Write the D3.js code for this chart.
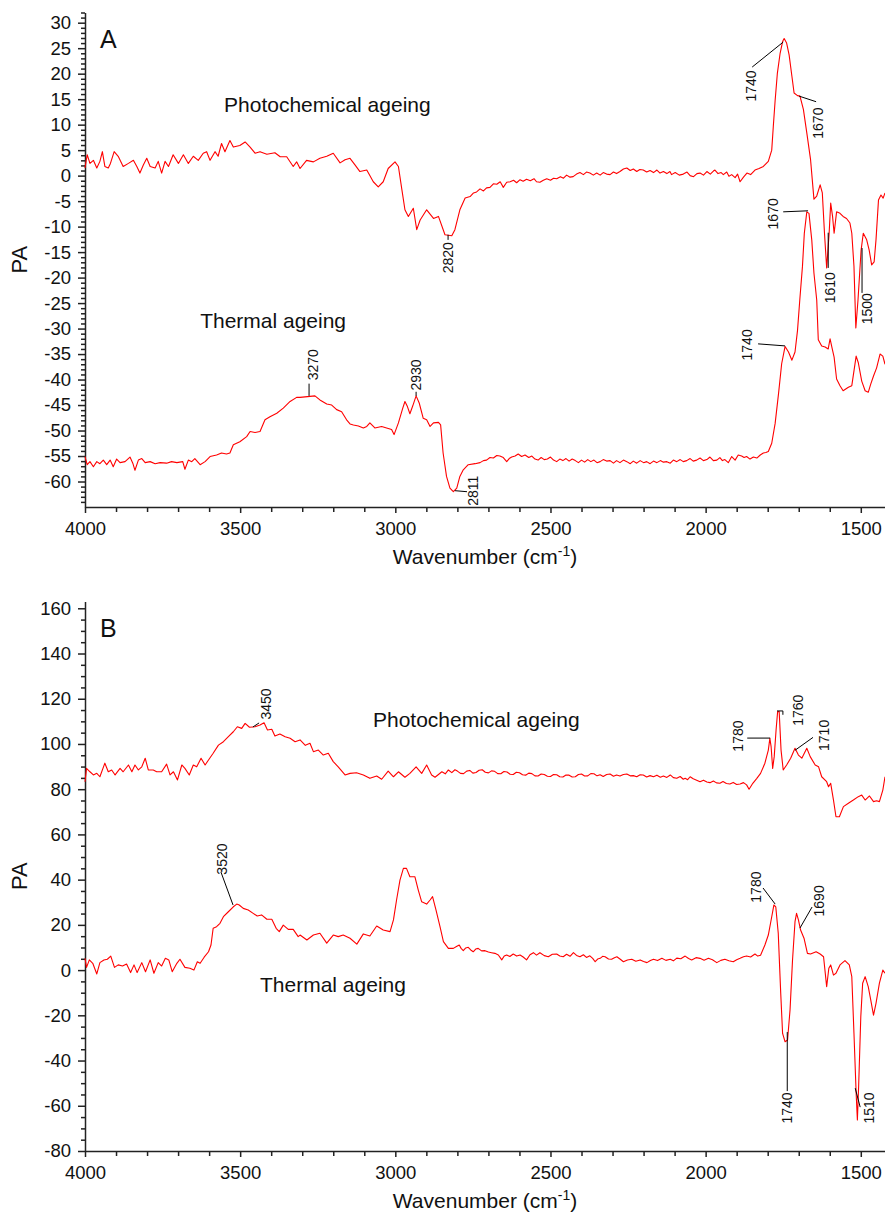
<!DOCTYPE html>
<html>
<head>
<meta charset="utf-8">
<script src="https://cdn.jsdelivr.net/npm/d3@7"></script>
<style>
  body { margin: 0; background: #fff; }
  text { font-family: "Liberation Sans", Arial, sans-serif; }
</style>
</head>
<body>
<div id="chart"></div>
<script>
// tick labels
const xTicks = [4000, 3500, 3000, 2500, 2000, 1500];
const yTicksA = [30, 25, 20, 15, 10, 5, 0, -5, -10, -15, -20, -25, -30, -35, -40, -45, -50, -55, -60];
const yTicksB = [160, 140, 120, 100, 80, 60, 40, 20, 0, -20, -40, -60, -80];

// spectra, [wavenumber, PA]
const aPhoto = [[4000,1.5],[3993,4.1],[3984,2.4],[3973,3.0],[3962,1.5],[3952,2.8],[3944,4.7],[3936,1.8],[3925,1.5],[3918,2.4],[3906,4.7],[3893,3.8],[3877,1.8],[3860,2.4],[3844,3.0],[3833,1.8],[3823,0.5],[3812,2.1],[3801,3.4],[3790,1.8],[3774,1.5],[3764,2.8],[3753,0.5],[3742,2.8],[3731,1.8],[3716,4.1],[3699,2.4],[3683,4.1],[3667,2.4],[3651,3.8],[3635,3.0],[3619,4.4],[3608,4.7],[3597,3.0],[3581,4.7],[3571,3.8],[3560,6.3],[3549,4.7],[3533,6.9],[3522,5.6],[3501,5.9],[3484,6.6],[3468,5.6],[3452,4.4],[3436,4.7],[3414,4.2],[3388,4.5],[3371,3.7],[3350,3.7],[3329,1.8],[3318,2.7],[3307,1.4],[3286,3.0],[3264,2.7],[3243,3.4],[3221,3.8],[3200,4.4],[3178,2.5],[3162,3.1],[3146,3.4],[3130,2.1],[3114,0.8],[3092,1.1],[3071,-1.2],[3055,-2.2],[3039,-1.2],[3023,1.4],[3001,2.7],[2990,1.8],[2979,-2.7],[2969,-6.7],[2958,-8.0],[2942,-6.4],[2931,-10.6],[2920,-8.7],[2899,-6.7],[2877,-8.4],[2861,-8.0],[2840,-11.6],[2818,-11.8],[2808,-10.6],[2792,-6.7],[2775,-4.4],[2759,-4.1],[2748,-3.4],[2738,-3.2],[2727,-2.6],[2716,-3.0],[2706,-2.4],[2695,-2.3],[2684,-1.6],[2673,-1.7],[2662,-1.2],[2652,-2.3],[2641,-1.3],[2630,-1.2],[2619,-0.9],[2609,-1.4],[2598,-0.8],[2588,-1.1],[2577,-0.7],[2565,-1.0],[2553,-0.6],[2545,-1.2],[2534,-1.3],[2523,-0.9],[2512,-0.6],[2500,-0.9],[2490,-0.5],[2480,-0.6],[2468,-0.2],[2458,-0.5],[2448,0.1],[2437,-0.3],[2427,-0.2],[2416,0.3],[2405,0.6],[2394,0.2],[2384,0.7],[2373,0.5],[2362,0.1],[2351,0.5],[2340,0.1],[2330,0.6],[2319,0.3],[2308,0.2],[2297,0.7],[2287,0.4],[2276,0.8],[2265,1.3],[2254,1.5],[2243,1.0],[2233,1.3],[2222,0.8],[2212,1.2],[2201,1.1],[2190,0.7],[2179,1.0],[2168,0.6],[2157,1.1],[2147,0.5],[2136,0.8],[2125,0.4],[2115,0.8],[2110,0.2],[2098,0.6],[2085,0.1],[2072,0.3],[2060,0.7],[2050,0.0],[2039,-0.2],[2028,0.4],[2018,0.5],[2007,0.1],[1996,0.8],[1985,0.3],[1975,0.9],[1970,1.1],[1960,0.4],[1950,0.6],[1943,0.2],[1932,0.7],[1925,-0.1],[1916,0.2],[1905,-0.4],[1897,0.3],[1889,-1.2],[1878,-0.3],[1867,0.5],[1855,0.2],[1841,1.1],[1828,1.4],[1814,1.8],[1798,2.8],[1787,5.0],[1782,9.6],[1776,14.8],[1769,20.0],[1760,24.0],[1752,26.3],[1747,26.9],[1739,26.0],[1731,23.7],[1722,19.5],[1715,16.2],[1704,15.7],[1696,15.6],[1685,13.0],[1674,8.4],[1662,3.2],[1651,-4.6],[1642,-4.0],[1631,-1.8],[1624,-3.4],[1617,-11.3],[1610,-18.1],[1602,-11.3],[1597,-5.4],[1591,-8.0],[1586,-11.3],[1578,-7.1],[1567,-7.4],[1557,-8.0],[1546,-8.4],[1535,-9.3],[1529,-11.3],[1522,-17.8],[1516,-29.9],[1509,-24.4],[1499,-14.6],[1492,-11.3],[1481,-12.6],[1473,-14.6],[1465,-17.5],[1457,-16.9],[1451,-12.6],[1443,-4.8],[1435,-3.8],[1428,-4.4],[1422,-3.4]];

const aThermal = [[4000,-55.1],[3993,-56.7],[3984,-56.1],[3973,-57.1],[3962,-56.1],[3952,-56.5],[3941,-55.8],[3930,-56.7],[3919,-55.8],[3909,-57.1],[3898,-55.6],[3887,-56.3],[3871,-56.1],[3855,-55.2],[3846,-56.4],[3839,-57.8],[3828,-55.8],[3817,-55.5],[3806,-56.3],[3790,-56.1],[3774,-56.5],[3758,-56.3],[3737,-56.4],[3721,-56.1],[3704,-56.3],[3685,-56.1],[3678,-57.6],[3667,-55.8],[3656,-56.1],[3646,-55.5],[3629,-56.7],[3613,-56.1],[3597,-55.1],[3576,-54.8],[3560,-54.4],[3544,-54.6],[3533,-54.4],[3522,-52.8],[3501,-52.2],[3479,-51.2],[3468,-50.2],[3452,-50.4],[3436,-50.2],[3420,-47.9],[3404,-47.3],[3382,-46.6],[3361,-45.6],[3339,-44.3],[3318,-43.5],[3307,-43.5],[3275,-43.3],[3259,-43.2],[3243,-44.0],[3221,-44.8],[3205,-45.0],[3189,-45.9],[3173,-46.3],[3157,-47.9],[3146,-48.7],[3135,-48.9],[3119,-49.1],[3103,-49.5],[3092,-49.2],[3082,-48.5],[3066,-49.5],[3044,-49.2],[3028,-49.5],[3012,-49.8],[3004,-50.8],[2990,-48.5],[2976,-45.6],[2969,-44.3],[2961,-45.3],[2953,-46.7],[2944,-45.2],[2933,-43.2],[2923,-44.6],[2910,-47.6],[2899,-47.9],[2888,-49.2],[2877,-48.5],[2861,-48.4],[2854,-48.9],[2846,-54.4],[2835,-59.0],[2824,-61.3],[2813,-62.0],[2802,-61.3],[2792,-59.0],[2781,-57.7],[2765,-56.7],[2743,-56.5],[2727,-56.3],[2716,-55.9],[2706,-55.8],[2695,-55.3],[2684,-55.4],[2673,-54.9],[2663,-55.0],[2652,-55.3],[2641,-56.1],[2633,-55.5],[2625,-55.2],[2614,-55.0],[2604,-54.6],[2593,-55.1],[2582,-54.8],[2570,-55.3],[2560,-55.0],[2550,-55.6],[2540,-55.8],[2530,-55.3],[2520,-55.7],[2510,-55.6],[2500,-55.2],[2490,-55.8],[2480,-56.1],[2470,-55.6],[2460,-55.9],[2450,-55.5],[2440,-56.0],[2430,-55.6],[2420,-55.9],[2410,-56.3],[2400,-55.8],[2390,-56.2],[2380,-55.7],[2370,-56.1],[2360,-55.8],[2350,-56.3],[2340,-56.1],[2330,-55.7],[2319,-56.0],[2308,-55.9],[2297,-56.4],[2287,-55.9],[2276,-56.3],[2265,-55.8],[2254,-56.1],[2243,-56.5],[2233,-56.0],[2222,-56.4],[2211,-55.9],[2200,-56.3],[2190,-56.1],[2179,-56.5],[2168,-56.0],[2157,-56.3],[2146,-55.9],[2136,-56.2],[2125,-56.1],[2114,-56.4],[2104,-55.8],[2093,-56.1],[2082,-55.7],[2072,-56.1],[2061,-55.9],[2050,-55.5],[2040,-56.0],[2029,-55.8],[2018,-55.4],[2007,-55.9],[1996,-55.7],[1986,-55.2],[1975,-55.9],[1964,-55.8],[1954,-55.3],[1946,-55.9],[1938,-55.7],[1927,-56.3],[1916,-55.1],[1905,-55.8],[1895,-54.8],[1884,-55.0],[1876,-55.3],[1868,-55.1],[1857,-55.6],[1846,-55.2],[1835,-55.4],[1824,-54.8],[1814,-54.4],[1806,-54.3],[1798,-54.1],[1787,-52.5],[1776,-48.6],[1765,-42.7],[1755,-36.9],[1744,-33.5],[1733,-34.6],[1722,-36.2],[1712,-34.6],[1704,-30.4],[1696,-23.9],[1688,-17.8],[1682,-11.3],[1674,-7.1],[1667,-7.4],[1658,-12.6],[1651,-19.1],[1642,-24.4],[1637,-32.2],[1626,-33.4],[1615,-33.6],[1605,-34.0],[1599,-32.0],[1592,-34.0],[1586,-35.6],[1578,-39.9],[1567,-41.2],[1557,-42.2],[1540,-41.5],[1529,-41.2],[1522,-38.3],[1515,-35.4],[1508,-36.7],[1497,-40.3],[1486,-42.2],[1476,-42.5],[1468,-40.9],[1459,-39.3],[1449,-37.7],[1438,-35.0],[1429,-35.4],[1422,-37.0]];

const bPhoto = [[4000,83.3],[3995,89.2],[3984,87.7],[3973,86.3],[3962,87.0],[3952,85.5],[3936,91.5],[3925,87.7],[3914,88.5],[3903,86.3],[3887,89.2],[3877,87.7],[3860,90.7],[3849,87.7],[3839,90.7],[3828,88.5],[3817,89.9],[3806,93.7],[3796,88.5],[3780,88.5],[3769,87.7],[3753,87.7],[3737,91.1],[3726,86.3],[3715,87.7],[3702,84.1],[3688,90.7],[3678,89.2],[3664,86.3],[3651,90.7],[3640,89.9],[3626,93.7],[3613,90.7],[3602,92.9],[3587,95.9],[3570,99.5],[3554,101.0],[3538,103.2],[3522,105.4],[3509,107.6],[3495,106.9],[3484,109.1],[3470,107.4],[3452,107.6],[3436,108.4],[3423,109.4],[3412,106.2],[3398,106.5],[3388,103.5],[3372,104.4],[3355,103.2],[3339,102.5],[3323,101.0],[3307,101.8],[3290,99.4],[3275,100.3],[3264,96.6],[3248,97.3],[3232,95.1],[3216,95.9],[3200,92.2],[3184,89.9],[3162,86.3],[3146,87.0],[3125,87.3],[3103,86.3],[3082,84.8],[3060,85.8],[3044,84.4],[3023,88.0],[3006,85.5],[2990,87.7],[2969,85.3],[2953,87.0],[2933,89.9],[2915,87.0],[2899,90.7],[2883,86.3],[2872,85.3],[2850,87.7],[2839,86.8],[2829,88.5],[2818,87.3],[2808,88.6],[2800,88.0],[2790,87.0],[2780,86.9],[2770,88.0],[2760,88.3],[2750,87.1],[2740,87.4],[2730,88.4],[2720,88.6],[2710,87.5],[2700,87.2],[2690,88.1],[2680,87.9],[2670,86.9],[2660,86.8],[2650,87.8],[2640,87.6],[2630,86.6],[2620,86.5],[2610,87.5],[2600,87.3],[2590,86.4],[2580,86.2],[2570,87.1],[2560,86.9],[2550,85.9],[2540,85.8],[2530,86.7],[2520,86.5],[2510,85.7],[2500,85.6],[2490,86.5],[2480,86.4],[2470,85.5],[2460,85.4],[2450,86.3],[2440,86.2],[2430,85.4],[2420,85.5],[2410,86.5],[2400,86.7],[2390,85.8],[2380,85.9],[2370,86.9],[2360,86.8],[2350,85.9],[2340,86.4],[2330,85.6],[2319,86.5],[2308,86.7],[2297,85.7],[2287,86.3],[2276,85.8],[2265,86.5],[2254,86.7],[2243,85.9],[2233,86.0],[2222,85.5],[2211,86.4],[2201,86.3],[2190,85.4],[2179,86.0],[2168,85.5],[2157,86.2],[2146,85.3],[2136,85.8],[2125,85.2],[2114,86.3],[2104,85.1],[2093,84.8],[2082,85.6],[2072,84.4],[2066,84.8],[2058,84.2],[2050,85.5],[2040,84.6],[2029,84.0],[2018,83.3],[2007,84.0],[1996,83.2],[1986,82.9],[1975,83.6],[1965,82.8],[1954,82.6],[1944,83.4],[1933,82.5],[1922,82.3],[1911,83.0],[1900,82.1],[1889,82.3],[1878,82.9],[1868,81.9],[1860,80.0],[1848,82.6],[1835,84.8],[1823,87.0],[1809,91.5],[1798,97.3],[1793,102.5],[1789,98.8],[1784,89.2],[1779,94.4],[1773,106.2],[1768,114.3],[1763,114.3],[1757,97.3],[1750,88.5],[1739,90.7],[1726,93.7],[1712,98.1],[1701,95.1],[1690,93.7],[1674,98.1],[1663,94.4],[1647,90.7],[1636,89.9],[1626,85.5],[1610,83.3],[1604,81.1],[1597,82.6],[1588,75.2],[1580,67.8],[1569,67.8],[1556,72.3],[1540,73.8],[1524,75.2],[1508,76.7],[1497,77.4],[1486,75.2],[1472,77.0],[1459,74.5],[1449,74.9],[1440,74.5],[1429,79.6],[1422,85.5]];

const bThermal = [[4000,5.2],[3995,1.2],[3986,4.5],[3975,3.0],[3962,-1.7],[3952,3.3],[3939,4.5],[3928,4.8],[3917,6.2],[3905,1.2],[3893,2.3],[3879,1.8],[3866,2.7],[3853,-1.1],[3842,2.3],[3832,-1.1],[3817,3.3],[3805,-0.7],[3790,4.5],[3778,-1.4],[3764,3.3],[3753,1.8],[3741,5.2],[3730,4.5],[3719,-0.7],[3704,3.0],[3694,4.8],[3678,1.2],[3662,0.8],[3649,0.0],[3638,3.7],[3629,3.0],[3616,5.7],[3602,8.1],[3594,11.1],[3587,18.5],[3576,19.2],[3565,20.7],[3554,23.6],[3538,25.8],[3522,28.0],[3511,29.2],[3503,28.8],[3490,27.3],[3474,26.6],[3458,25.1],[3445,23.9],[3431,24.4],[3414,22.5],[3398,22.5],[3384,18.5],[3374,17.0],[3361,19.9],[3345,18.0],[3329,18.0],[3313,14.8],[3307,15.5],[3285,13.3],[3264,15.5],[3243,16.3],[3221,11.9],[3200,15.5],[3184,14.8],[3168,15.5],[3146,14.1],[3124,11.5],[3103,16.0],[3082,15.1],[3060,19.5],[3039,17.7],[3017,17.0],[3006,22.2],[2996,31.0],[2985,39.8],[2974,45.0],[2964,45.0],[2953,41.3],[2937,41.3],[2926,35.4],[2915,30.2],[2899,29.2],[2888,31.0],[2880,32.5],[2869,26.6],[2856,19.2],[2845,12.6],[2829,9.6],[2813,9.6],[2803,10.4],[2794,11.1],[2788,9.6],[2781,8.6],[2773,9.8],[2765,10.1],[2757,8.9],[2749,8.1],[2741,9.3],[2733,9.6],[2722,8.5],[2711,8.6],[2700,8.0],[2690,7.7],[2679,7.4],[2668,6.7],[2657,4.5],[2649,6.2],[2641,6.7],[2631,6.0],[2620,7.1],[2609,6.2],[2598,6.7],[2588,5.8],[2577,4.5],[2566,6.8],[2555,7.7],[2545,6.6],[2534,7.7],[2520,6.4],[2507,5.9],[2494,7.0],[2480,7.1],[2470,6.2],[2459,5.9],[2448,7.0],[2437,6.1],[2426,7.7],[2416,6.5],[2405,5.9],[2394,6.8],[2384,5.6],[2373,6.3],[2364,5.2],[2356,3.7],[2348,4.9],[2340,5.2],[2332,6.1],[2324,5.9],[2313,4.9],[2303,4.8],[2294,5.5],[2286,5.9],[2275,4.8],[2265,3.7],[2252,4.5],[2238,4.8],[2225,3.9],[2211,4.5],[2200,3.8],[2189,3.3],[2178,4.2],[2168,4.8],[2155,4.2],[2141,5.2],[2128,4.3],[2114,4.8],[2104,4.1],[2093,5.3],[2080,5.0],[2066,6.2],[2055,5.1],[2045,4.5],[2031,5.5],[2018,5.2],[2005,4.4],[1991,5.2],[1978,4.6],[1964,3.3],[1951,4.3],[1938,4.8],[1925,4.1],[1911,3.7],[1900,4.6],[1889,5.2],[1878,5.9],[1868,6.2],[1855,5.8],[1841,7.1],[1832,6.2],[1823,6.6],[1809,11.1],[1798,15.5],[1787,23.6],[1780,28.8],[1774,28.0],[1766,16.3],[1758,-10.3],[1752,-28.0],[1744,-31.7],[1736,-30.9],[1728,-17.6],[1720,4.5],[1712,21.4],[1707,25.1],[1701,22.2],[1694,17.7],[1683,14.1],[1672,7.4],[1662,7.1],[1644,8.1],[1631,7.1],[1620,5.9],[1610,-7.3],[1603,0.8],[1597,2.3],[1588,-2.2],[1580,-1.4],[1567,2.3],[1551,4.2],[1537,2.3],[1529,-2.9],[1522,-28.0],[1515,-54.5],[1511,-66.3],[1507,-51.6],[1500,-20.6],[1494,-5.8],[1486,-2.9],[1476,-7.3],[1468,-13.2],[1459,-19.9],[1451,-14.7],[1440,-5.8],[1429,0.0],[1422,-1.4]];

// peak annotations (data units): leader line, label centre
const annotsA = [
  { label: "1740", line: [[1750, 26.2], [1850, 21.3]], at: [1853, 17.6] },
  { label: "1670", line: [[1699, 15.6], [1644, 14.5]], at: [1638, 10.3] },
  { label: "2820", line: [[2830, -11.6], [2830, -12.6]], at: [2830, -16.1] },
  { label: "1670", line: [[1670, -6.9], [1750, -7.1]], at: [1783, -7.5] },
  { label: "1610", line: [[1605, -18.1], [1605, -11.2]], at: [1599, -22.0] },
  { label: "1500", line: [[1496, -14.2], [1496, -23.0]], at: [1481, -26.1] },
  { label: "1740", line: [[1744, -33.4], [1831, -33.0]], at: [1865, -33.2] },
  { label: "3270", line: [[3278, -43.2], [3278, -40.8]], at: [3264, -37.1] },
  { label: "2930", line: [[2933, -43.2], [2933, -42.4]], at: [2933, -39.1] },
  { label: "2811", line: [[2808, -61.8], [2769, -62.0]], at: [2750, -61.8] }
];
const annotsB = [
  { label: "3450", line: [[3459, 107.5], [3439, 109.3]], at: [3417, 117.7] },
  { label: "3520", line: [[3523, 28.8], [3562, 43.4]], at: [3557, 49.1] },
  { label: "1780", line: [[1792, 102.6], [1866, 102.6]], at: [1897, 103.5] },
  { label: "1760", line: [[1770, 114.6], [1751, 114.6], [1751, 112.9]], at: [1702, 114.9] },
  { label: "1710", line: [[1712, 97.2], [1654, 102.9]], at: [1618, 103.8] },
  { label: "1780", line: [[1776, 29.2], [1815, 36.3]], at: [1837, 36.7] },
  { label: "1690", line: [[1696, 18.6], [1657, 27.9]], at: [1634, 30.6] },
  { label: "1740", line: [[1737, -27.4], [1737, -53.5]], at: [1737, -61.0] },
  { label: "1510", line: [[1518, -52.2], [1502, -60.6]], at: [1473, -61.0] }
];

const w = 885;
const h = 1213;
const left = 85;

const svg = d3.select("#chart").append("svg")
  .attr("width", w)
  .attr("height", h);

const x = d3.scaleLinear().domain([4000, 1422]).range([left, w]);
const xMinor = d3.range(3900, 1421, -100).filter(d => d % 500 != 0);

function drawPanel(p) {
  const y = d3.scaleLinear().domain(p.yDomain).range(p.yRange);
  const bottom = p.yRange[0];
  const g = svg.append("g");

  // x axis
  g.append("g")
    .attr("transform", `translate(0, ${bottom})`)
    .call(d3.axisBottom(x).tickValues(xMinor).tickSize(5).tickFormat("").tickSizeOuter(0))
    .call(a => a.select(".domain").remove());
  g.append("g")
    .attr("transform", `translate(0, ${bottom})`)
    .call(d3.axisBottom(x).tickValues(xTicks).tickSize(6).tickPadding(9).tickSizeOuter(0).tickFormat(d => String(d)));

  // y axis
  g.append("g")
    .attr("transform", `translate(${left}, 0)`)
    .call(d3.axisLeft(y).tickValues(p.yMinor).tickSize(4).tickFormat("").tickSizeOuter(0))
    .call(a => a.select(".domain").remove());
  g.append("g")
    .attr("transform", `translate(${left}, 0)`)
    .call(d3.axisLeft(y).tickValues(p.yTicks).tickSize(7).tickPadding(7).tickSizeOuter(0).tickFormat(d => String(d)));

  g.selectAll(".tick text")
    .attr("font-size", 18.5)
    .attr("font-family", "Liberation Sans, Arial, sans-serif")
    .attr("fill", "#111");
  g.selectAll("path.domain, .tick line")
    .attr("stroke", "#222")
    .attr("stroke-width", 1.5);

  // spectra
  const line = d3.line().x(d => x(d[0])).y(d => y(d[1]));
  p.series.forEach(s => {
    g.append("path")
      .datum(s)
      .attr("d", line)
      .attr("fill", "none")
      .attr("stroke", "#ff0000")
      .attr("stroke-width", 1.1)
      .attr("stroke-linejoin", "round");
  });

  // peak labels
  p.annots.forEach(a => {
    g.append("path")
      .attr("d", line(a.line))
      .attr("fill", "none")
      .attr("stroke", "#000")
      .attr("stroke-width", 1);
    g.append("text")
      .attr("transform", `translate(${x(a.at[0])}, ${y(a.at[1])}) rotate(-90)`)
      .attr("text-anchor", "middle")
      .attr("dy", "0.35em")
      .attr("font-size", 14)
      .attr("fill", "#111")
      .text(a.label);
  });

  // series names
  p.names.forEach(n => {
    g.append("text")
      .attr("x", x(n.at[0]))
      .attr("y", y(n.at[1]))
      .attr("font-size", 21)
      .attr("fill", "#111")
      .text(n.text);
  });

  // panel letter
  g.append("text")
    .attr("x", 100)
    .attr("y", p.yRange[1] + 35.5)
    .attr("font-size", 25)
    .attr("fill", "#111")
    .text(p.letter);

  // axis titles
  g.append("text")
    .attr("transform", `translate(27, ${(p.yRange[0] + p.yRange[1]) / 2}) rotate(-90)`)
    .attr("text-anchor", "middle")
    .attr("font-size", 22)
    .attr("fill", "#111")
    .text("PA");

  const t = g.append("text")
    .attr("x", (left + w) / 2)
    .attr("y", bottom + 57)
    .attr("text-anchor", "middle")
    .attr("font-size", 21)
    .attr("fill", "#111");
  t.append("tspan").text("Wavenumber (cm");
  t.append("tspan").attr("font-size", 14).attr("dy", -8).text("-1");
  t.append("tspan").attr("dy", 8).text(")");
}

drawPanel({
  letter: "A",
  yDomain: [-65, 32],
  yRange: [507, 12.5],
  yTicks: yTicksA,
  yMinor: d3.range(-65, 33, 1).filter(d => d % 5 != 0),
  series: [aPhoto, aThermal],
  annots: annotsA,
  names: [
    { text: "Photochemical ageing", at: [3552, 12.5] },
    { text: "Thermal ageing", at: [3629, -29.9] }
  ]
});

drawPanel({
  letter: "B",
  yDomain: [-80, 163],
  yRange: [1151, 601.5],
  yTicks: yTicksB,
  yMinor: d3.range(-75, 163, 5).filter(d => d % 20 != 0),
  series: [bPhoto, bThermal],
  annots: annotsB,
  names: [
    { text: "Photochemical ageing", at: [3072, 107.6] },
    { text: "Thermal ageing", at: [3436, -9.6] }
  ]
});
</script>
</body>
</html>
